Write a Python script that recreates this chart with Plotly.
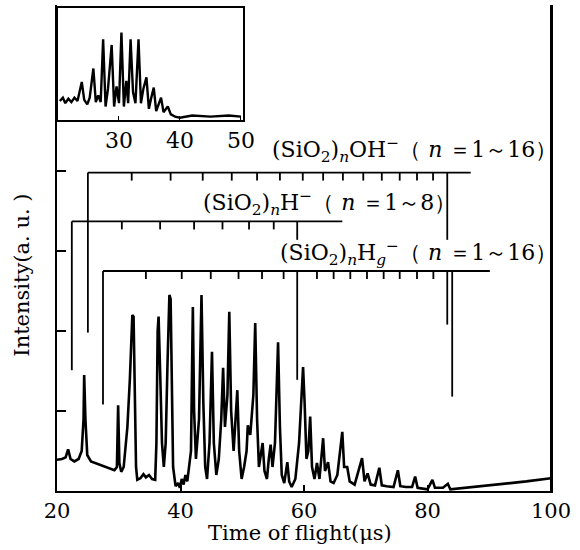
import plotly.graph_objects as go

# ---------------- data ----------------
# main spectrum: time of flight (us) and intensity (a.u.)
tof_main = [20.0, 20.8, 21.4, 21.8, 22.2, 22.8, 23.5, 24.0, 24.3, 24.4, 24.6, 24.9, 25.5, 26.5, 27.5, 28.5,
            29.3, 29.7, 29.9, 30.1, 30.4, 30.8, 31.4, 31.8, 32.2, 32.4, 32.6, 32.8, 33.0, 33.5, 34.0, 34.4,
            34.9, 35.4, 35.9, 36.1, 36.3, 36.45, 36.7, 37.0, 37.3, 37.6, 37.9, 38.2, 38.4, 38.6, 38.8, 39.2,
            39.6, 39.9, 40.2, 40.5, 40.8, 41.1, 41.4, 41.7, 42.0, 42.2, 42.5, 43.0, 43.4, 43.7, 44.0, 44.3,
            44.7, 45.1, 45.4, 45.8, 46.2, 46.6, 46.9, 47.2, 47.6, 47.9, 48.2, 48.6, 49.2, 49.5, 49.9, 50.3,
            50.7, 50.9, 51.3, 51.8, 52.1, 52.4, 52.7, 53.0, 53.3, 53.6, 54.0, 54.3, 54.6, 54.9, 55.3, 55.8,
            56.1, 56.4, 56.8, 57.3, 57.6, 58.0, 58.6, 59.2, 59.6, 59.85, 60.1, 60.4, 60.7, 61.0, 61.3, 61.7,
            62.1, 62.5, 63.1, 63.4, 63.9, 64.3, 64.8, 65.4, 66.2, 66.5, 67.0, 67.4, 68.2, 69.4, 69.8, 70.3,
            70.8, 71.5, 72.2, 72.6, 73.4, 74.5, 75.2, 75.6, 76.5, 77.5, 78.0, 78.4, 79.2, 80.0, 80.8, 81.2,
            82.5, 83.3, 83.7, 85.0, 87.0, 90.0, 93.0, 96.0, 100.0]
int_main = [0.39, 0.40, 0.42, 0.52, 0.40, 0.37, 0.40, 0.50, 0.90, 1.45, 0.90, 0.45, 0.37, 0.34, 0.32, 0.29,
            0.26, 0.30, 1.07, 0.35, 0.24, 0.30, 0.80, 1.40, 2.20, 2.18, 1.20, 0.30, 0.14, 0.16, 0.21, 0.17,
            0.20, 0.15, 0.14, 0.60, 2.00, 2.18, 1.50, 0.60, 0.30, 0.60, 1.60, 2.45, 2.40, 1.20, 0.30, 0.06,
            0.10, 0.04, 0.15, 0.08, 0.20, 0.12, 0.28, 0.50, 2.30, 1.00, 0.40, 0.90, 2.45, 1.10, 0.30, 0.15,
            0.60, 1.74, 0.60, 0.20, 0.40, 0.90, 1.54, 0.80, 1.20, 2.24, 1.00, 0.50, 1.26, 0.50, 0.15, 0.30,
            0.50, 0.82, 0.70, 1.20, 2.10, 0.90, 0.30, 0.45, 0.60, 0.25, 0.15, 0.40, 0.58, 0.30, 0.60, 1.86,
            0.80, 0.20, 0.10, 0.36, 0.12, 0.05, 0.15, 0.60, 1.30, 1.55, 1.10, 0.40, 0.50, 0.93, 0.30, 0.15,
            0.35, 0.15, 0.66, 0.25, 0.36, 0.12, 0.10, 0.20, 0.74, 0.30, 0.30, 0.12, 0.08, 0.41, 0.12, 0.22,
            0.08, 0.07, 0.29, 0.07, 0.06, 0.05, 0.26, 0.06, 0.05, 0.05, 0.18, 0.04, 0.03, 0.02, 0.14, 0.04,
            0.04, 0.09, 0.02, 0.03, 0.05, 0.07, 0.09, 0.12, 0.16]

# inset spectrum
tof_inset = [20.3, 20.8, 21.2, 21.7, 22.2, 22.7, 23.2, 23.9, 24.3, 24.8, 25.2, 25.8, 26.2, 26.6, 27.0, 27.4,
             27.8, 28.2, 28.8, 29.2, 29.6, 30.0, 30.4, 30.8, 31.2, 31.5, 31.9, 32.3, 32.7, 33.2, 33.6, 34.0,
             34.5, 34.9, 35.3, 35.7, 36.1, 36.5, 36.9, 37.3, 38.0, 38.5, 39.2, 40.0, 42.0, 45.0, 48.0, 50.0]
int_inset = [0.17, 0.20, 0.15, 0.19, 0.16, 0.20, 0.17, 0.34, 0.18, 0.14, 0.20, 0.46, 0.16, 0.22, 0.16, 0.72,
             0.12, 0.28, 0.67, 0.12, 0.30, 0.15, 0.78, 0.12, 0.35, 0.15, 0.72, 0.25, 0.15, 0.72, 0.15, 0.28,
             0.38, 0.10, 0.20, 0.29, 0.08, 0.14, 0.20, 0.07, 0.12, 0.05, 0.03, 0.02, 0.04, 0.03, 0.04, 0.03]

# cluster series markers (positions in us)
oh_pos = [25.0, 32.1, 38.4, 43.6, 48.3, 52.4, 56.1, 59.8, 63.1, 66.3, 69.6, 72.6, 75.5, 78.3, 80.9, 83.2]
h_pos = [22.4, 30.5, 36.7, 42.2, 46.8, 51.1, 55.1, 58.9]
hs_pos = [27.45, 34.4, 40.2, 44.9, 49.4, 53.2, 56.7, 62.1, 64.8, 67.5, 70.2, 72.9, 75.5, 78.3, 80.95, 84.0]

x_ticks = [20, 40, 60, 80, 100]
y_ticks = [1, 2, 3, 4, 5]
inset_ticks = [30, 40, 50]

label_oh = "(SiO<sub>2</sub>)<sub><i>n</i></sub>OH<sup>−</sup>（ <i>n</i> ＝1～16）"
label_h = "(SiO<sub>2</sub>)<sub><i>n</i></sub>H<sup>−</sup>（ <i>n</i> ＝1～8）"
label_hs = "(SiO<sub>2</sub>)<sub><i>n</i></sub>H<sub><i>g</i></sub><sup>−</sup>（ <i>n</i> ＝1～16）"

# ---------------- figure ----------------
SERIF = "DejaVu Serif"
fig = go.Figure()
fig.add_trace(go.Scatter(x=tof_main, y=int_main, mode="lines",
                         line=dict(color="black", width=2.6), hoverinfo="skip", showlegend=False))
fig.add_trace(go.Scatter(x=tof_inset, y=int_inset, mode="lines", xaxis="x2", yaxis="y2",
                         line=dict(color="black", width=2.4), hoverinfo="skip", showlegend=False))

shapes = []
def seg(x0, y0, x1, y1):
    shapes.append(dict(type="line", xref="x", yref="y", x0=x0, y0=y0, x1=x1, y1=y1,
                       line=dict(color="black", width=1.8)))

tick_len = 0.1
# OH series comb
lvl = 3.98
seg(oh_pos[0], lvl, 87.0, lvl)
seg(oh_pos[0], lvl, oh_pos[0], 1.98)
for p in oh_pos[1:-1]:
    seg(p, lvl, p, lvl - tick_len)
seg(oh_pos[-1], lvl, oh_pos[-1], 3.14)
seg(oh_pos[-1], 2.74, oh_pos[-1], 2.08)
# H series comb
lvl = 3.37
seg(h_pos[0], lvl, 66.2, lvl)
seg(h_pos[0], lvl, h_pos[0], 1.51)
for p in h_pos[1:-1]:
    seg(p, lvl, p, lvl - tick_len)
seg(h_pos[-1], lvl, h_pos[-1], 3.14)
seg(h_pos[-1], 2.76, h_pos[-1], 1.39)
# Hs series comb
lvl = 2.75
seg(hs_pos[0], lvl, 90.1, lvl)
seg(hs_pos[0], lvl, hs_pos[0], 1.08)
for p in hs_pos[1:-1]:
    seg(p, lvl, p, lvl - tick_len)
seg(hs_pos[-1], lvl, hs_pos[-1], 1.18)

# right frame line of the main plot
shapes.append(dict(type="line", xref="paper", yref="paper", x0=1, x1=1, y0=0, y1=1,
                   line=dict(color="black", width=2)))

annotations = [
    dict(text=label_oh, x=1.016, y=4.26, xref="paper", yref="y", xanchor="right", yanchor="middle",
         showarrow=False, font=dict(family=SERIF, size=22, color="black")),
    dict(text=label_h, x=0.811, y=3.60, xref="paper", yref="y", xanchor="right", yanchor="middle",
         showarrow=False, font=dict(family=SERIF, size=22, color="black")),
    dict(text=label_hs, x=1.016, y=2.97, xref="paper", yref="y", xanchor="right", yanchor="middle",
         showarrow=False, font=dict(family=SERIF, size=22, color="black")),
    dict(text="Time of flight(μs)", x=0.492, y=-0.087, xref="paper", yref="paper",
         xanchor="center", yanchor="middle", showarrow=False,
         font=dict(family=SERIF, size=21, color="black")),
    dict(text="Intensity(a. u. )", x=-0.071, y=0.445, xref="paper", yref="paper", textangle=-90,
         xanchor="center", yanchor="middle", showarrow=False,
         font=dict(family=SERIF, size=21, color="black")),
]

fig.update_layout(
    width=580, height=550,
    margin=dict(l=57, r=29, t=5, b=59),
    paper_bgcolor="white", plot_bgcolor="white",
    shapes=shapes, annotations=annotations,
    xaxis=dict(range=[20, 100], tickvals=x_ticks, ticks="inside", ticklen=6, tickwidth=1.5,
               tickcolor="black", showline=True, linecolor="black", linewidth=2, mirror=False,
               showgrid=False, zeroline=False,
               tickfont=dict(family=SERIF, size=21, color="black")),
    yaxis=dict(range=[0, 6.075], tickvals=y_ticks, showticklabels=False, ticks="inside", ticklen=9,
               tickwidth=1.5, tickcolor="black", showline=True, linecolor="black", linewidth=2,
               mirror=True, showgrid=False, zeroline=False),
    xaxis2=dict(domain=[0.002, 0.3765], range=[20, 50.33], anchor="y2", tickvals=inset_ticks,
                ticks="inside", ticklen=4, tickcolor="black", showline=True, linecolor="black",
                linewidth=2, mirror=True, showgrid=False, zeroline=False,
                tickfont=dict(family=SERIF, size=22, color="black")),
    yaxis2=dict(domain=[0.7634, 0.9938], range=[0, 1], anchor="x2", showticklabels=False,
                ticks="", showline=True, linecolor="black", linewidth=2, mirror=True,
                showgrid=False, zeroline=False),
)

fig.write_html("out.html", config={"displayModeBar": False},
               post_script="document.body.style.margin='0';document.body.style.padding='0';")
